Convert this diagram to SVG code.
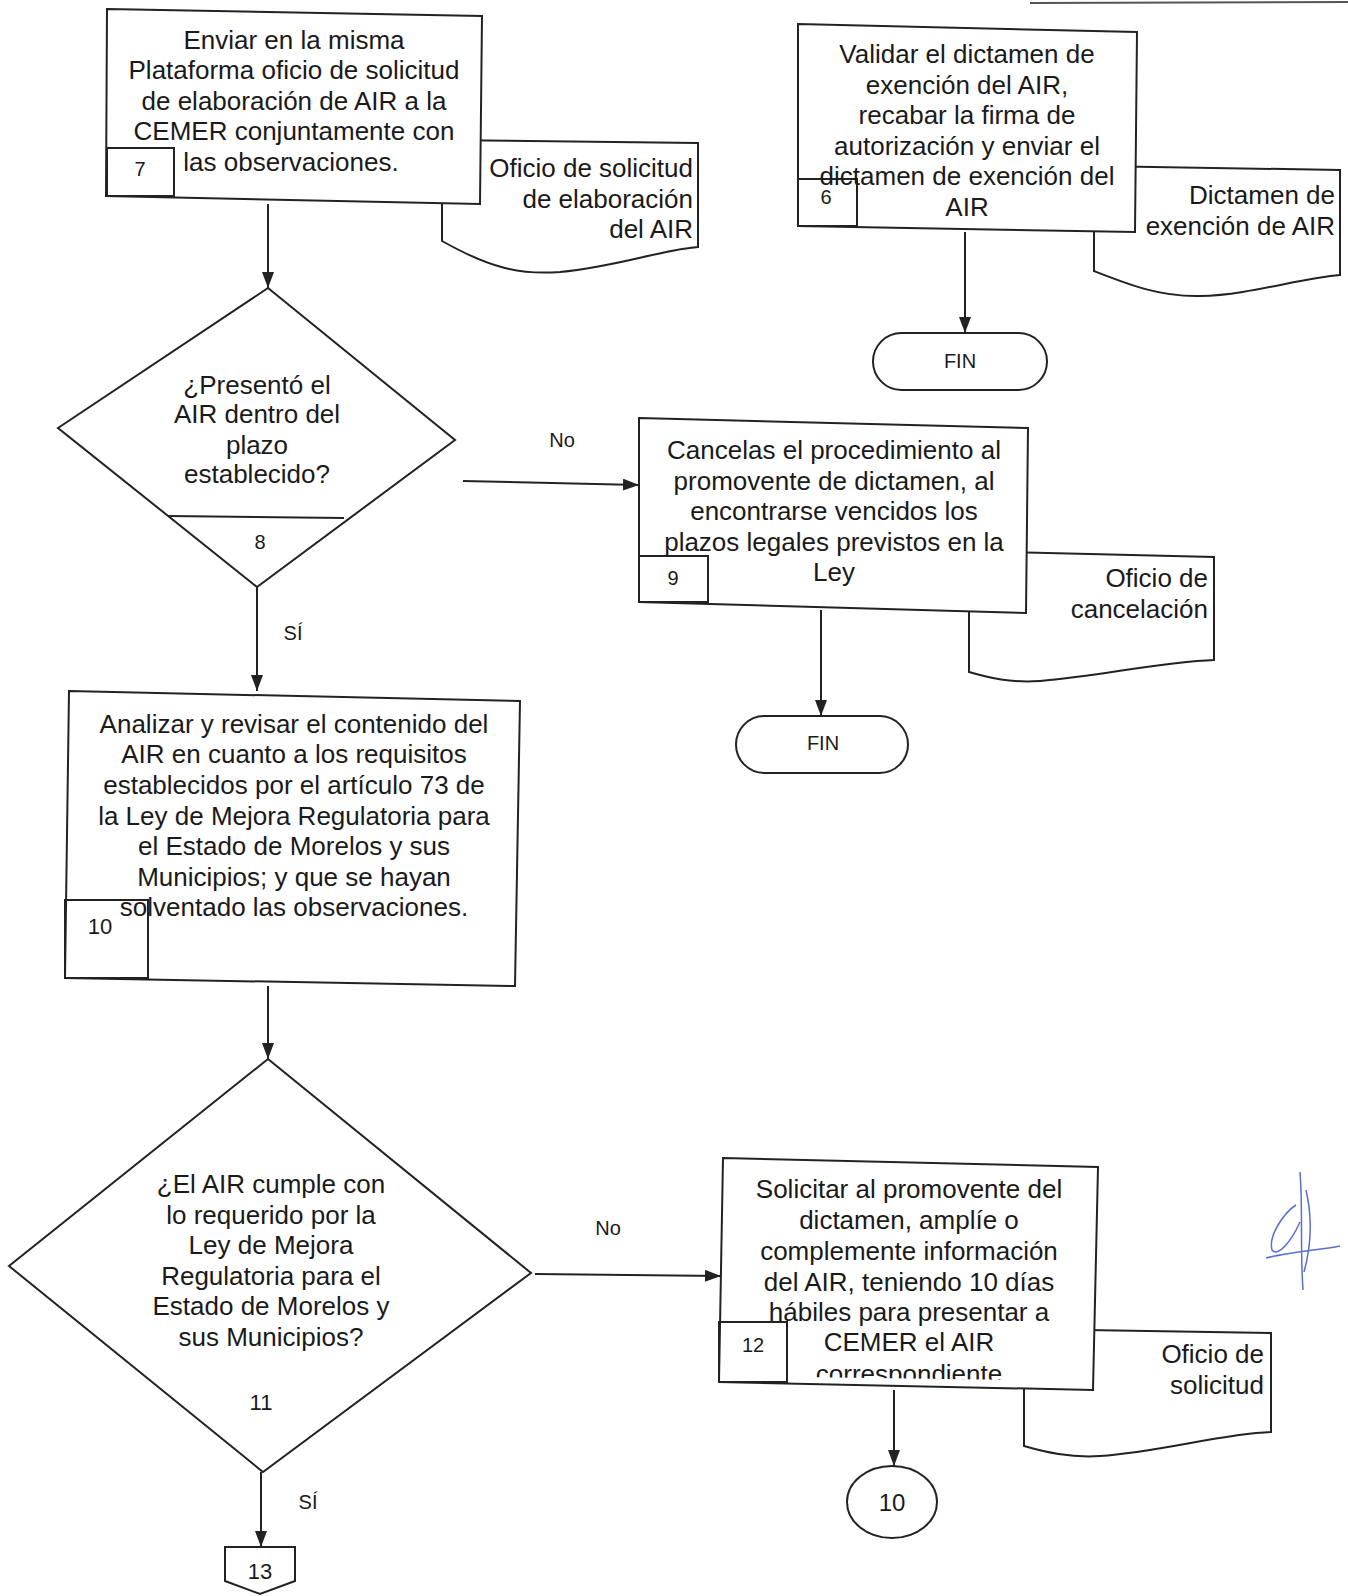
<svg xmlns="http://www.w3.org/2000/svg" width="1348" height="1596" viewBox="0 0 1348 1596">
<defs>
<style>
.bx{fill:#fff;stroke:#222;stroke-width:2}
.nb{fill:none;stroke:#222;stroke-width:2}
.doc{fill:#fff;stroke:#222;stroke-width:2}
.t{font-family:"Liberation Sans",Arial,sans-serif;font-size:26px;fill:#1a1a1a;text-anchor:middle}
.tr{font-family:"Liberation Sans",Arial,sans-serif;font-size:26px;fill:#1a1a1a;text-anchor:end}
.n{font-family:"Liberation Sans",Arial,sans-serif;font-size:20px;fill:#1a1a1a;text-anchor:middle}
.l{font-family:"Liberation Sans",Arial,sans-serif;font-size:20px;fill:#1a1a1a;text-anchor:middle}
.c{fill:none;stroke:#222;stroke-width:2}
</style>
<marker id="ah" viewBox="0 0 16 12" refX="16" refY="6" markerWidth="16" markerHeight="12" markerUnits="userSpaceOnUse" orient="auto">
<path d="M0,0 L16,6 L0,12 Z" fill="#222"/>
</marker>
<clipPath id="clip12"><polygon points="723,1158 1098,1167 1093,1381 719,1376"/></clipPath>
</defs>
<rect width="1348" height="1596" fill="#fff"/>
<line x1="1030" y1="3" x2="1348" y2="2" stroke="#555" stroke-width="2"/>

<g id="doc-oficio-elaboracion">
<path class="doc" d="M442,140 L698,143 L698,247 C660,250 620,266 560,272 C520,275 490,268 442,241 Z"/>
<text class="tr" x="693" y="177">Oficio de solicitud</text>
<text class="tr" x="693" y="208">de elaboración</text>
<text class="tr" x="693" y="238">del AIR</text>
</g>

<g id="node-7">
<polygon class="bx" points="107,9 482,16 480,204 106,196"/>
<rect class="nb" x="107" y="148" width="67" height="48"/>
<text class="n" x="140" y="176">7</text>
<text class="t" x="294" y="49">Enviar en la misma</text>
<text class="t" x="294" y="79">Plataforma oficio de solicitud</text>
<text class="t" x="294" y="110">de elaboración de AIR a la</text>
<text class="t" x="294" y="140">CEMER conjuntamente con</text>
<text class="t" x="291" y="171">las observaciones.</text>
</g>

<g id="doc-dictamen">
<path class="doc" d="M1094,166 L1340,170 L1340,275 C1300,278 1250,295 1200,296 C1160,297 1130,285 1094,271 Z"/>
<text class="tr" x="1335" y="204">Dictamen de</text>
<text class="tr" x="1335" y="235">exención de AIR</text>
</g>

<g id="node-6">
<polygon class="bx" points="798,24 1137,32 1135,232 798,226"/>
<rect class="nb" x="798" y="179" width="59" height="47"/>
<text class="n" x="826" y="204">6</text>
<text class="t" x="967" y="63">Validar el dictamen de</text>
<text class="t" x="967" y="94">exención del AIR,</text>
<text class="t" x="967" y="124">recabar la firma de</text>
<text class="t" x="967" y="155">autorización y enviar el</text>
<text class="t" x="967" y="185">dictamen de exención del</text>
<text class="t" x="967" y="216">AIR</text>
</g>

<g id="fin-1">
<rect class="bx" x="873" y="333" width="174" height="57" rx="28.5"/>
<text class="n" x="960" y="368">FIN</text>
</g>

<g id="node-8">
<polygon class="bx" points="268,288 455,440 257,587 58,428"/>
<line class="c" x1="168" y1="516" x2="344" y2="518"/>
<text class="t" x="257" y="394">¿Presentó el</text>
<text class="t" x="257" y="423">AIR dentro del</text>
<text class="t" x="257" y="454">plazo</text>
<text class="t" x="257" y="483">establecido?</text>
<text class="n" x="260" y="549">8</text>
</g>

<g id="doc-cancelacion">
<path class="doc" d="M969,551 L1214,557 L1214,660 C1160,662 1100,676 1040,681 C1010,683 990,678 969,672 Z"/>
<text class="tr" x="1208" y="587">Oficio de</text>
<text class="tr" x="1208" y="618">cancelación</text>
</g>

<g id="node-9">
<polygon class="bx" points="639,418 1028,428 1026,613 639,602"/>
<rect class="nb" x="639" y="556" width="69" height="46"/>
<text class="n" x="673" y="585">9</text>
<text class="t" x="834" y="459">Cancelas el procedimiento al</text>
<text class="t" x="834" y="490">promovente de dictamen, al</text>
<text class="t" x="834" y="520">encontrarse vencidos los</text>
<text class="t" x="834" y="551">plazos legales previstos en la</text>
<text class="t" x="834" y="581">Ley</text>
</g>

<g id="fin-2">
<rect class="bx" x="736" y="716" width="172" height="57" rx="28.5"/>
<text class="n" x="823" y="750">FIN</text>
</g>

<g id="node-10">
<polygon class="bx" points="69,691 520,701 515,986 65,978"/>
<rect class="nb" x="65" y="900" width="83" height="78"/>
<text class="n" x="100" y="934" style="font-size:22px">10</text>
<text class="t" x="294" y="733">Analizar y revisar el contenido del</text>
<text class="t" x="294" y="763">AIR en cuanto a los requisitos</text>
<text class="t" x="294" y="794">establecidos por el artículo 73 de</text>
<text class="t" x="294" y="825">la Ley de Mejora Regulatoria para</text>
<text class="t" x="294" y="855">el Estado de Morelos y sus</text>
<text class="t" x="294" y="886">Municipios; y que se hayan</text>
<text class="t" x="294" y="916">solventado las observaciones.</text>
</g>

<g id="node-11">
<polygon class="bx" points="268,1059 531,1273 263,1472 9,1266"/>
<text class="t" x="271" y="1193">¿El AIR cumple con</text>
<text class="t" x="271" y="1224">lo requerido por la</text>
<text class="t" x="271" y="1254">Ley de Mejora</text>
<text class="t" x="271" y="1285">Regulatoria para el</text>
<text class="t" x="271" y="1315">Estado de Morelos y</text>
<text class="t" x="271" y="1346">sus Municipios?</text>
<text class="n" x="261" y="1410" style="font-size:22px">11</text>
</g>

<g id="doc-oficio-solicitud">
<path class="doc" d="M1024,1329 L1271,1333 L1271,1432 C1220,1434 1160,1452 1100,1456 C1070,1458 1045,1452 1024,1446 Z"/>
<text class="tr" x="1264" y="1363">Oficio de</text>
<text class="tr" x="1264" y="1394">solicitud</text>
</g>

<g id="node-12">
<polygon class="bx" points="723,1158 1098,1167 1093,1390 719,1382"/>
<rect class="nb" x="719" y="1322" width="68" height="60"/>
<text class="n" x="753" y="1352">12</text>
<g clip-path="url(#clip12)">
<text class="t" x="909" y="1198">Solicitar al promovente del</text>
<text class="t" x="909" y="1229">dictamen, amplíe o</text>
<text class="t" x="909" y="1260">complemente información</text>
<text class="t" x="909" y="1291">del AIR, teniendo 10 días</text>
<text class="t" x="909" y="1321">hábiles para presentar a</text>
<text class="t" x="909" y="1351">CEMER el AIR</text>
<text class="t" x="909" y="1383">correspondiente</text>
</g>
</g>

<g id="connector-10">
<ellipse class="bx" cx="892" cy="1502" rx="45" ry="36"/>
<text class="n" x="892" y="1511" style="font-size:24px">10</text>
</g>

<g id="offpage-13">
<polygon class="bx" points="225,1547 295,1547 295,1581 260,1594 225,1581"/>
<text class="n" x="260" y="1579" style="font-size:22px">13</text>
</g>

<g id="connectors">
<line class="c" x1="268" y1="204" x2="268" y2="288" marker-end="url(#ah)"/>
<line class="c" x1="965" y1="232" x2="965" y2="333" marker-end="url(#ah)"/>
<line class="c" x1="463" y1="481" x2="639" y2="485" marker-end="url(#ah)"/>
<line class="c" x1="821" y1="610" x2="821" y2="716" marker-end="url(#ah)"/>
<line class="c" x1="257" y1="587" x2="257" y2="691" marker-end="url(#ah)"/>
<line class="c" x1="268" y1="986" x2="268" y2="1059" marker-end="url(#ah)"/>
<line class="c" x1="535" y1="1274" x2="721" y2="1276" marker-end="url(#ah)"/>
<line class="c" x1="894" y1="1390" x2="894" y2="1466" marker-end="url(#ah)"/>
<line class="c" x1="261" y1="1472" x2="261" y2="1547" marker-end="url(#ah)"/>
<text class="l" x="562" y="447">No</text>
<text class="l" x="293" y="640">SÍ</text>
<text class="l" x="608" y="1235">No</text>
<text class="l" x="308" y="1509">SÍ</text>
</g>

<path d="M1296,1205 C1285,1212 1268,1235 1272,1250 C1278,1258 1292,1240 1300,1222 M1300,1172 C1303,1210 1300,1250 1303,1290 M1306,1190 C1313,1220 1310,1250 1304,1272 M1266,1258 C1290,1252 1320,1250 1340,1246" fill="none" stroke="#5a6fd0" stroke-width="1.5"/>
</svg>
